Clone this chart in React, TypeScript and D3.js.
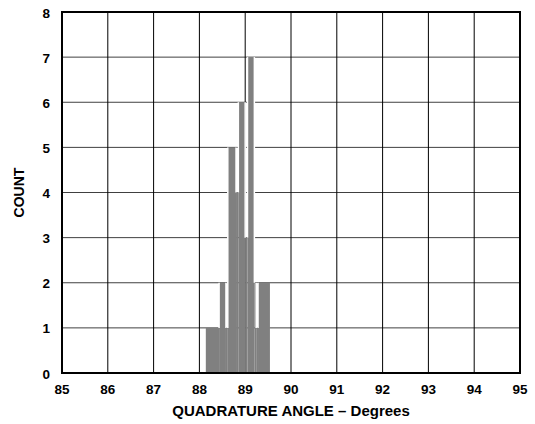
import React from "react";
import * as d3 from "d3";

// Histogram bins (degrees) and counts
const binStart = [88.14, 88.43, 88.58, 88.62, 88.8, 88.85, 89.0, 89.05, 89.2, 89.24, 89.28];
const binEnd = [88.43, 88.58, 88.62, 88.8, 88.85, 89.0, 89.05, 89.2, 89.24, 89.28, 89.54];
const counts = [1, 2, 1, 5, 4, 6, 3, 7, 2, 1, 2];

const xTicks = [85, 86, 87, 88, 89, 90, 91, 92, 93, 94, 95];
const yTicks = [0, 1, 2, 3, 4, 5, 6, 7, 8];

const xTitle = "QUADRATURE ANGLE – Degrees";
const yTitle = "COUNT";

const W = 535;
const H = 424;
const M = { left: 62, right: 15, top: 12, bottom: 51 };

export default function App() {
  const x = d3.scaleLinear().domain([85, 95]).range([M.left, W - M.right]);
  const y = d3.scaleLinear().domain([0, 8]).range([H - M.bottom, M.top]);
  const font = "'Liberation Sans', Arial, Helvetica, sans-serif";

  return (
    <svg
      width={W}
      height={H}
      style={{ position: "absolute", left: 0, top: 0, background: "#fff" }}
      fontFamily={font}
    >
      {/* horizontal grid */}
      {yTicks.slice(1, -1).map((t) => (
        <line
          key={"h" + t}
          x1={x(85)}
          x2={x(95)}
          y1={y(t)}
          y2={y(t)}
          stroke="#404040"
          strokeWidth={1}
        />
      ))}
      {/* vertical grid */}
      {xTicks.slice(1, -1).map((t) => (
        <line
          key={"v" + t}
          x1={x(t)}
          x2={x(t)}
          y1={y(0)}
          y2={y(8)}
          stroke="#000"
          strokeWidth={1}
        />
      ))}
      {/* bars */}
      {counts.map((c, i) => (
        <rect
          key={"b" + i}
          x={x(binStart[i])}
          y={y(c)}
          width={x(binEnd[i]) - x(binStart[i])}
          height={y(0) - y(c)}
          fill="#808080"
        />
      ))}
      {/* white separators between neighbouring bars */}
      {counts.map((c, i) => {
        if (i === 0) return null;
        const prev = counts[i - 1];
        const xs = x(binStart[i]);
        const lo = Math.min(c, prev);
        const hi = Math.max(c, prev);
        return (
          <line
            key={"s" + i}
            x1={xs}
            x2={xs}
            y1={y(lo)}
            y2={y(hi)}
            stroke="#fff"
            strokeWidth={1.5}
          />
        );
      })}
      {/* frame */}
      <rect
        x={x(85)}
        y={y(8)}
        width={x(95) - x(85)}
        height={y(0) - y(8)}
        fill="none"
        stroke="#000"
        strokeWidth={2}
      />
      {/* y tick labels */}
      {yTicks.map((t) => (
        <text
          key={"yl" + t}
          x={M.left - 12}
          y={y(t) + 2}
          textAnchor="end"
          dominantBaseline="middle"
          fontSize={13.5}
          fontWeight="bold"
        >
          {t}
        </text>
      ))}
      {/* x tick labels */}
      {xTicks.map((t) => (
        <text
          key={"xl" + t}
          x={x(t)}
          y={y(0) + 17}
          textAnchor="middle"
          dominantBaseline="middle"
          fontSize={13.5}
          fontWeight="bold"
        >
          {t}
        </text>
      ))}
      <text
        x={(x(85) + x(95)) / 2}
        y={H - 12}
        textAnchor="middle"
        dominantBaseline="middle"
        fontSize={15}
        fontWeight="bold"
      >
        {xTitle}
      </text>
      <text
        transform={`translate(20, ${(y(0) + y(8)) / 2}) rotate(-90)`}
        textAnchor="middle"
        dominantBaseline="middle"
        fontSize={14}
        fontWeight="bold"
      >
        {yTitle}
      </text>
    </svg>
  );
}
